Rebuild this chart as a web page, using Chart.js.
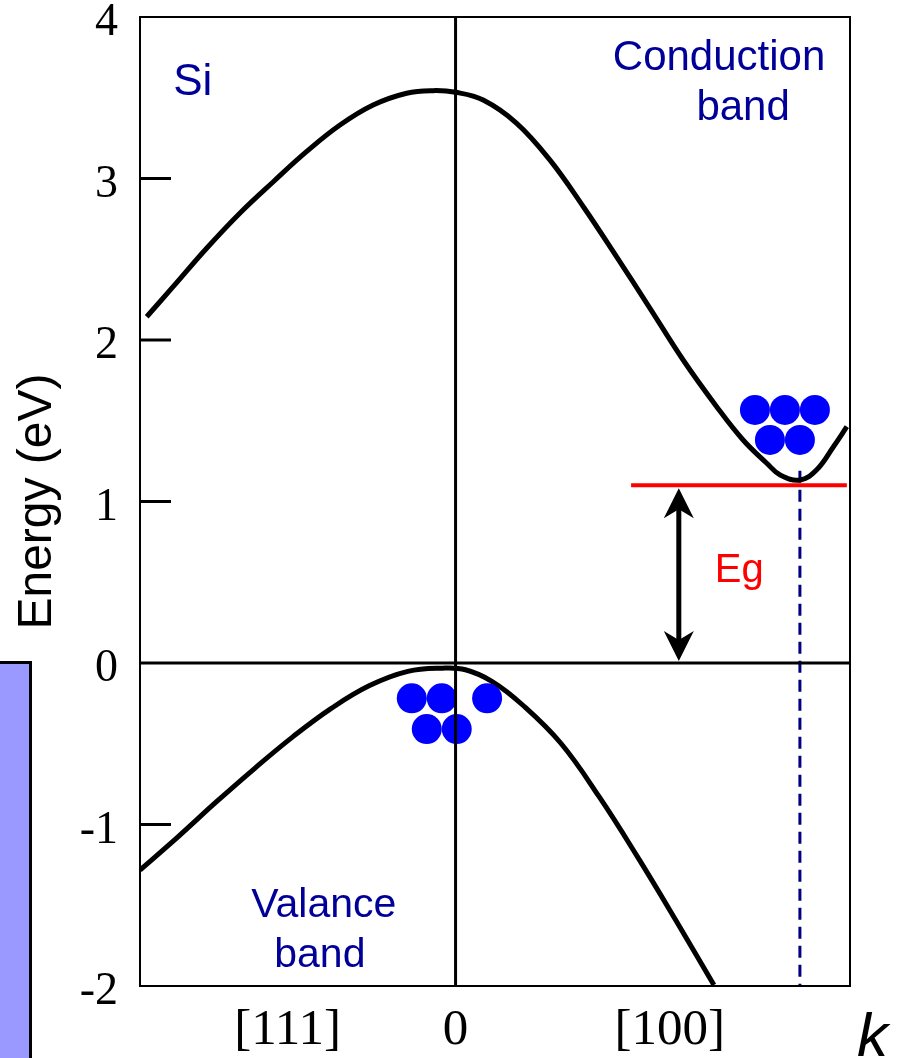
<!DOCTYPE html>
<html>
<head>
<meta charset="utf-8">
<script src="https://cdn.jsdelivr.net/npm/chart.js@4.4.1/dist/chart.umd.min.js"></script>
<style>
  html, body { margin: 0; padding: 0; background: #fff; }
  #wrap { position: relative; width: 897px; height: 1058px; overflow: hidden; }
  #side { position: absolute; left: 0; top: 661px; width: 29px; height: 400px;
          background: #9999ff; border-top: 3px solid #000; border-right: 3px solid #000; }
  canvas { position: absolute; left: 0; top: 0; }
</style>
</head>
<body>
<div id="wrap">
  <div id="side"></div>
  <canvas id="c" width="897" height="1058"></canvas>
</div>
<script>
// ---- data (k in arbitrary units, energy in eV) ----
const conductionK = [-0.783,-0.716,-0.631,-0.547,-0.462,-0.378,-0.293,-0.209,-0.124,-0.057,0.000,0.070,0.155,0.239,0.324,0.408,0.493,0.577,0.662,0.729,0.789,0.823,0.873,0.915,0.958,0.992];
const conductionE = [2.144,2.330,2.568,2.785,2.980,3.166,3.331,3.455,3.528,3.544,3.534,3.486,3.342,3.115,2.825,2.516,2.196,1.876,1.587,1.381,1.237,1.164,1.133,1.195,1.339,1.463];

const valenceK = [-0.800,-0.703,-0.606,-0.509,-0.412,-0.315,-0.218,-0.121,-0.034,0.025,0.093,0.170,0.267,0.364,0.461,0.558,0.655];
const valenceE = [-1.282,-1.075,-0.859,-0.652,-0.456,-0.281,-0.140,-0.052,-0.032,-0.042,-0.115,-0.260,-0.497,-0.828,-1.199,-1.591,-1.994];

const electronK = [0.759,0.835,0.911,0.797,0.873];
const electronE = [1.567,1.567,1.567,1.381,1.381];
const holeK = [-0.111,-0.035,0.080,-0.073,0.003];
const holeE = [-0.219,-0.219,-0.219,-0.409,-0.409];

const gapEnergy = 1.1;           // Eg level (eV)
const gapLineK = [0.445, 0.992];  // extent of red Eg line
const arrowK = 0.566;             // position of Eg arrow
const minimumK = 0.873;           // conduction band minimum (dashed line)
const minimumTopE = 1.19;

const kRange = [-0.8, 1.0];
const eRange = [-2, 4];
const xTickValues = [-0.426, 0, 0.543];
const xTickLabels = ['[111]', '0', '[100]'];
const innerTickValues = [3, 2, 1, -1];

const annotations = [
  { text: 'Si',         k: -0.716, e: 3.517,  align: 'left',   font: '44px "Liberation Sans", Arial, sans-serif', color: '#000099' },
  { text: 'Conduction', k: 0.668,  e: 3.672,  align: 'center', font: '42px "Liberation Sans", Arial, sans-serif', color: '#000099' },
  { text: 'band',       k: 0.729,  e: 3.362,  align: 'center', font: '42px "Liberation Sans", Arial, sans-serif', color: '#000099' },
  { text: 'Valance',    k: -0.334, e: -1.573, align: 'center', font: '41px "Liberation Sans", Arial, sans-serif', color: '#000099' },
  { text: 'band',       k: -0.344, e: -1.882, align: 'center', font: '41px "Liberation Sans", Arial, sans-serif', color: '#000099' },
  { text: 'Eg',         k: 0.719,  e: 0.502,  align: 'center', font: '40px "Liberation Sans", Arial, sans-serif', color: '#ff0000' },
  { text: 'k',          k: 1.018,  e: -2.433, align: 'left',   font: 'italic 62px "Liberation Sans", Arial, sans-serif', color: '#000000' }
];

const toPts = (ks, es) => ks.map((k, i) => ({ x: k, y: es[i] }));

const overlay = {
  id: 'overlay',
  afterDatasetsDraw(chart) {
    const { ctx, chartArea: a, scales: { x, y } } = chart;
    ctx.save();
    // frame
    ctx.strokeStyle = '#000';
    ctx.lineWidth = 2;
    ctx.strokeRect(a.left, a.top, a.right - a.left, a.bottom - a.top);
    // inward tick marks
    ctx.lineWidth = 3;
    innerTickValues.forEach(v => {
      const py = y.getPixelForValue(v);
      ctx.beginPath();
      ctx.moveTo(a.left, py);
      ctx.lineTo(a.left + 31, py);
      ctx.stroke();
    });
    // double arrow for Eg
    const ax = x.getPixelForValue(arrowK);
    const yTop = y.getPixelForValue(gapEnergy) + 3;
    const yBot = y.getPixelForValue(0) - 2;
    ctx.lineWidth = 5;
    ctx.beginPath();
    ctx.moveTo(ax, yTop + 20);
    ctx.lineTo(ax, yBot - 20);
    ctx.stroke();
    ctx.fillStyle = '#000';
    ctx.beginPath();
    ctx.moveTo(ax, yTop);
    ctx.lineTo(ax + 15, yTop + 30);
    ctx.lineTo(ax, yTop + 21);
    ctx.lineTo(ax - 15, yTop + 30);
    ctx.closePath();
    ctx.fill();
    ctx.beginPath();
    ctx.moveTo(ax, yBot);
    ctx.lineTo(ax + 15, yBot - 30);
    ctx.lineTo(ax, yBot - 21);
    ctx.lineTo(ax - 15, yBot - 30);
    ctx.closePath();
    ctx.fill();
    // annotation texts
    ctx.textBaseline = 'alphabetic';
    annotations.forEach(t => {
      ctx.font = t.font;
      ctx.fillStyle = t.color;
      ctx.textAlign = t.align;
      ctx.fillText(t.text, x.getPixelForValue(t.k), y.getPixelForValue(t.e));
    });
    ctx.restore();
  }
};

const lineDefaults = { showLine: true, pointRadius: 0, pointHoverRadius: 0, fill: false };

new Chart(document.getElementById('c'), {
  type: 'scatter',
  data: {
    datasets: [
      { ...lineDefaults, label: 'k=0', data: [{ x: 0, y: eRange[0] }, { x: 0, y: eRange[1] }], borderColor: '#000', borderWidth: 3, order: 0 },
      { label: 'electrons', data: toPts(electronK, electronE), pointRadius: 15, pointHoverRadius: 15, backgroundColor: '#0000ff', borderWidth: 0, order: 1 },
      { label: 'holes', data: toPts(holeK, holeE), pointRadius: 15, pointHoverRadius: 15, backgroundColor: '#0000ff', borderWidth: 0, order: 1 },
      { ...lineDefaults, label: 'Conduction band', data: toPts(conductionK, conductionE), borderColor: '#000', borderWidth: 5, tension: 0.4, order: 2 },
      { ...lineDefaults, label: 'Valence band', data: toPts(valenceK, valenceE), borderColor: '#000', borderWidth: 5, tension: 0.4, order: 2 },
      { ...lineDefaults, label: 'E=0', data: [{ x: kRange[0], y: 0 }, { x: kRange[1], y: 0 }], borderColor: '#000', borderWidth: 3, order: 3 },
      { ...lineDefaults, label: 'Eg', data: [{ x: gapLineK[0], y: gapEnergy }, { x: gapLineK[1], y: gapEnergy }], borderColor: '#ff0000', borderWidth: 4, order: 3 },
      { ...lineDefaults, label: 'min', data: [{ x: minimumK, y: minimumTopE }, { x: minimumK, y: eRange[0] }], borderColor: '#000080', borderWidth: 3, borderDash: [12, 7], order: 3 }
    ]
  },
  options: {
    responsive: false,
    maintainAspectRatio: false,
    animation: false,
    events: [],
    layout: { padding: { top: 17, right: 47, left: 0, bottom: 0 } },
    plugins: { legend: { display: false }, tooltip: { enabled: false } },
    scales: {
      x: {
        type: 'linear',
        min: kRange[0], max: kRange[1],
        grid: { display: false, drawTicks: false },
        border: { display: false },
        afterBuildTicks: s => { s.ticks = xTickValues.map(v => ({ value: v })); },
        afterFit: s => { s.height = 72; s.paddingLeft = 0; s.paddingRight = 0; },
        ticks: {
          autoSkip: false, maxRotation: 0, minRotation: 0, padding: 19,
          color: '#000',
          font: { family: '"Liberation Serif", "Times New Roman", serif', size: 51, lineHeight: 1 },
          callback: (v, i) => xTickLabels[i]
        }
      },
      y: {
        type: 'linear',
        min: eRange[0], max: eRange[1],
        grid: { display: false, drawTicks: false },
        border: { display: false },
        afterFit: s => { s.width = 140; s.paddingTop = 0; s.paddingBottom = 0; },
        ticks: {
          stepSize: 1, padding: 22, color: '#000',
          font: { family: '"Liberation Serif", "Times New Roman", serif', size: 46, lineHeight: 0.26 },
          // empty first line nudges each label slightly below its tick, as in the original
          callback: v => ['', String(v)]
        },
        title: {
          display: true, text: 'Energy (eV)', color: '#000',
          font: { family: '"Liberation Sans", Arial, sans-serif', size: 48, lineHeight: 1 },
          padding: { top: 14, bottom: 0 }
        }
      }
    }
  },
  plugins: [overlay]
});
</script>
</body>
</html>
